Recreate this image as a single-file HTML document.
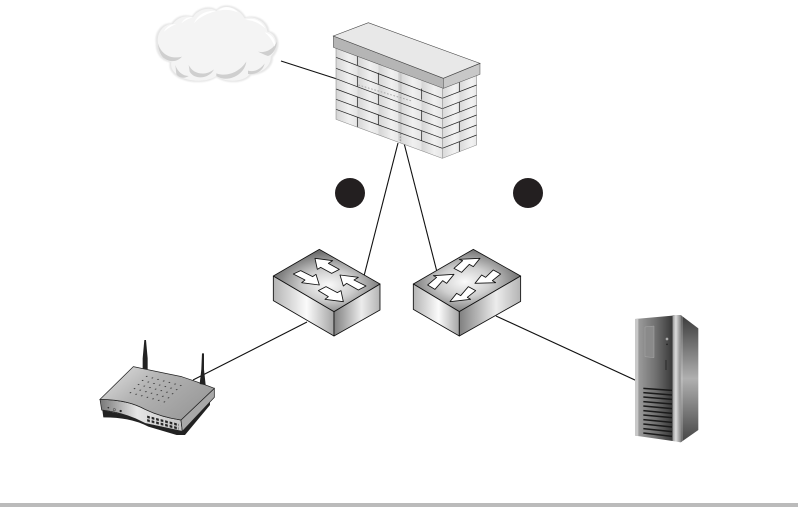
<!DOCTYPE html>
<html><head><meta charset="utf-8"><style>html,body{margin:0;padding:0;background:#fff}svg{display:block}</style></head>
<body>
<svg width="798" height="507" viewBox="0 0 798 507" xmlns="http://www.w3.org/2000/svg">
<defs>
<linearGradient id="brA" gradientUnits="userSpaceOnUse" x1="18" y1="0" x2="82" y2="0" spreadMethod="repeat"><stop offset="0" stop-color="#d4d4d4"/><stop offset=".6" stop-color="#f0f0f0"/><stop offset="1" stop-color="#e6e6e6"/></linearGradient>
<linearGradient id="brB" gradientUnits="userSpaceOnUse" x1="82" y1="0" x2="146" y2="0" spreadMethod="repeat"><stop offset="0" stop-color="#d6d6d6"/><stop offset=".6" stop-color="#f0f0f0"/><stop offset="1" stop-color="#e4e4e4"/></linearGradient>
<linearGradient id="brR" gradientUnits="userSpaceOnUse" x1="337" y1="0" x2="388" y2="0" spreadMethod="repeat"><stop offset="0" stop-color="#d8d8d8"/><stop offset=".7" stop-color="#f2f2f2"/><stop offset="1" stop-color="#e8e8e8"/></linearGradient>
<radialGradient id="swTop" gradientUnits="userSpaceOnUse" cx="0" cy="0" r="1" gradientTransform="translate(205 135) scale(170 100)"><stop offset="0" stop-color="#fafafa"/><stop offset=".45" stop-color="#cfcfcf"/><stop offset="1" stop-color="#6e6e6e"/></radialGradient>
<radialGradient id="swTop2" gradientUnits="userSpaceOnUse" cx="0" cy="0" r="1" gradientTransform="translate(615 125) scale(170 100)"><stop offset="0" stop-color="#fafafa"/><stop offset=".45" stop-color="#cfcfcf"/><stop offset="1" stop-color="#6e6e6e"/></radialGradient>
<linearGradient id="swL"><stop offset="0" stop-color="#b4b4b4"/><stop offset=".55" stop-color="#fbfbfb"/><stop offset="1" stop-color="#a4a4a4"/></linearGradient>
<linearGradient id="swR"><stop offset="0" stop-color="#808080"/><stop offset=".6" stop-color="#ececec"/><stop offset="1" stop-color="#b4b4b4"/></linearGradient>
<linearGradient id="rtTop" x1="0" y1="0" x2="1" y2=".6"><stop offset="0" stop-color="#e4e4e4"/><stop offset=".45" stop-color="#b4b4b4"/><stop offset="1" stop-color="#9a9a9a"/></linearGradient>
<linearGradient id="rtF"><stop offset="0" stop-color="#777"/><stop offset=".45" stop-color="#e6e6e6"/><stop offset="1" stop-color="#c4c4c4"/></linearGradient>
<linearGradient id="svF"><stop offset="0" stop-color="#a4a4a4"/><stop offset=".55" stop-color="#707070"/><stop offset="1" stop-color="#383838"/></linearGradient>
<linearGradient id="svS" x1="0" y1="0" x2="0" y2="1"><stop offset="0" stop-color="#3a3a3a"/><stop offset=".5" stop-color="#b0b0b0"/><stop offset="1" stop-color="#444"/></linearGradient>
<linearGradient id="svT"><stop offset="0" stop-color="#999"/><stop offset=".4" stop-color="#ddd"/><stop offset="1" stop-color="#888"/></linearGradient>
<pattern id="dots" patternUnits="userSpaceOnUse" width="17" height="17" patternTransform="matrix(1 .27 -.72 .72 0 0)"><circle cx="8" cy="8" r="1.9" fill="#222"/></pattern>
<pattern id="ports" patternUnits="userSpaceOnUse" width="13.5" height="10.5" patternTransform="matrix(1 .26 0 1 155 165)"><rect x="1.5" y="1.5" width="8" height="7" fill="#222"/></pattern>
<filter id="blur"><feGaussianBlur stdDeviation="2"/></filter>
</defs>

<rect width="798" height="507" fill="#fff"/>
<rect x="0" y="503" width="798" height="4" fill="#bbb"/>

<!-- connectors -->
<g stroke="#111" stroke-width="1.1" fill="none">
<line x1="281" y1="61" x2="337" y2="79"/>
<line x1="398" y1="143" x2="364" y2="276"/>
<line x1="404" y1="143" x2="437" y2="272"/>
<line x1="307" y1="322" x2="193" y2="380"/>
<line x1="496" y1="316" x2="637" y2="381"/>
</g>

<!-- numbered dots -->
<circle cx="350" cy="193" r="15" fill="#231f20"/>
<circle cx="528" cy="193" r="15" fill="#231f20"/>

<!-- cloud -->
<g transform="translate(148 0) scale(.3333)">
<path d="M30 130C25 95 50 70 75 72C90 50 115 45 135 52C150 25 190 20 205 33C225 10 270 20 290 55C320 45 355 65 358 95C385 100 395 140 368 170C370 195 345 220 305 222C290 245 235 250 205 228C175 250 110 245 85 222C65 205 70 190 70 185C45 180 30 160 30 130Z" fill="#e6e6e6" filter="url(#blur)" transform="translate(200 132) scale(1.04) translate(-200 -132)"/>
<path d="M30 130C25 95 50 70 75 72C90 50 115 45 135 52C150 25 190 20 205 33C225 10 270 20 290 55C320 45 355 65 358 95C385 100 395 140 368 170C370 195 345 220 305 222C290 245 235 250 205 228C175 250 110 245 85 222C65 205 70 190 70 185C45 180 30 160 30 130Z" fill="#f4f4f4"/>
<g fill="#cfcfcf">
<path d="M30 130C40 165 70 178 102 170C85 190 60 185 45 172C35 160 30 145 30 130Z"/>
<path d="M82 195C88 215 105 228 122 228C108 238 90 232 85 222Z"/>
<path d="M122 195C135 222 170 230 198 208C185 235 140 242 125 215Z"/>
<path d="M205 220C240 232 275 215 295 185C290 225 240 250 205 228Z"/>
<path d="M300 212C320 218 340 205 350 190C345 215 320 225 300 222Z"/>
<path d="M330 155C350 160 375 150 387 125C385 150 372 165 360 168C350 165 340 160 330 155Z"/>
</g>
<g fill="#fff">
<path d="M48 95C55 78 70 72 85 72C70 78 60 85 48 95Z"/>
<path d="M100 70C108 55 120 50 135 52C120 56 110 62 100 70Z"/>
<path d="M138 70C150 40 180 30 205 33C180 40 155 50 138 70Z"/>
<path d="M210 32C230 15 255 20 270 38C250 28 230 28 210 32Z"/>
<path d="M292 60C315 50 340 62 352 85C335 70 315 60 292 60Z"/>
<path d="M350 97C370 100 385 120 380 140C375 125 365 108 350 97Z"/>
</g>
</g>

<!-- firewall -->
<g transform="translate(330 20) scale(.3333)">
<g stroke="none">
<polygon points="18,85 337,202 337,235 18,112" fill="url(#brA)"/>
<polygon points="18,112 337,235 337,266 18,145" fill="url(#brB)"/>
<polygon points="18,145 337,266 337,296 18,176" fill="url(#brA)"/>
<polygon points="18,176 337,296 337,325 18,207" fill="url(#brB)"/>
<polygon points="18,207 337,325 337,355 18,238" fill="url(#brA)"/>
<polygon points="18,238 337,355 337,385 18,268" fill="url(#brB)"/>
<polygon points="18,268 337,385 337,415 18,298" fill="url(#brA)"/>
<polygon points="337,205 440,165 440,375 337,415" fill="url(#brR)"/>
<polygon points="205,155 215,159 215,365 205,361" fill="#c0c0c0" opacity=".6"/>
</g>
<g stroke="#222" stroke-width="2.2" fill="none">
<line x1="18" y1="112" x2="337" y2="235"/>
<line x1="18" y1="145" x2="337" y2="266"/>
<line x1="18" y1="176" x2="337" y2="296"/>
<line x1="18" y1="207" x2="337" y2="325"/>
<line x1="18" y1="238" x2="337" y2="355"/>
<line x1="18" y1="268" x2="337" y2="385"/>
<line x1="337" y1="235" x2="440" y2="195"/>
<line x1="337" y1="266" x2="440" y2="226"/>
<line x1="337" y1="296" x2="440" y2="256"/>
<line x1="337" y1="325" x2="440" y2="285"/>
<line x1="337" y1="355" x2="440" y2="315"/>
<line x1="337" y1="385" x2="440" y2="345"/>
<path d="M82 108.5V135.5M82 168.5V199.5M82 230.5V261.5M82 291.5V321.5"/>
<path d="M145 158.6V191.6M145 222.6V253.6M145 284.6V314.6"/>
<path d="M275 206V239M275 270V301M275 332V362"/>
<path d="M388 185V215M388 246V276M388 305V335M388 365V395"/>
</g>
<g stroke="#888" stroke-width="1.6" fill="none">
<path d="M18 85V298L337 415L440 375V165"/>
<line x1="337" y1="205" x2="337" y2="415"/>
</g>
<polygon points="10,48 340,175 340,205 10,82" fill="#b5b5b5" stroke="#555" stroke-width="1.6"/>
<polygon points="340,175 450,130 450,163 340,205" fill="#c8c8c8" stroke="#555" stroke-width="1.6"/>
<polygon points="10,48 115,8 450,130 340,175" fill="#e8e8e8" stroke="#444" stroke-width="1.8"/>
<path d="M85 195L245 243" stroke="#aaa" stroke-width="3" stroke-dasharray="5 5" fill="none"/>
<path d="M211 340V368" stroke="#999" stroke-width="3" stroke-dasharray="5 4" fill="none"/>
</g>

<!-- switches -->
<g transform="translate(260 240) scale(.3333)" stroke-linejoin="round">
<polygon points="40,108 222,215 222,288 40,182" fill="url(#swL)" stroke="#111" stroke-width="2.6"/>
<polygon points="222,215 360,132 360,210 222,288" fill="url(#swR)" stroke="#111" stroke-width="2.6"/>
<polygon points="40,108 178,28 360,132 222,215" fill="url(#swTop)" stroke="#111" stroke-width="2.6"/>
<g fill="#fff" stroke="#111" stroke-width="2.6">
<polygon points="165,55 218,62 205,70 238,88 215,100 182,82 172,88"/>
<polygon points="178,135 125,128 135,120 100,102 122,92 158,110 168,103"/>
<polygon points="240,105 295,112 282,120 318,138 295,150 260,130 250,138"/>
<polygon points="250,185 195,178 205,170 175,152 198,140 232,158 243,152"/>
</g>
<polygon points="460,132 640,28 782,108 598,215" fill="url(#swTop2)" stroke="#111" stroke-width="2.6"/>
<polygon points="460,132 598,215 598,288 460,208" fill="url(#swL)" stroke="#111" stroke-width="2.6"/>
<polygon points="598,215 782,108 782,184 598,288" fill="url(#swR)" stroke="#111" stroke-width="2.6"/>
<g fill="#fff" stroke="#111" stroke-width="2.6">
<polygon points="660,55 640,80 628,73 605,97 582,85 608,62 598,58"/>
<polygon points="582,103 560,130 548,122 525,148 503,135 530,112 520,107"/>
<polygon points="645,130 665,105 677,112 700,90 722,102 697,122 707,128"/>
<polygon points="570,185 590,160 602,167 625,140 647,152 622,172 632,178"/>
</g>
</g>

<!-- router -->
<g transform="translate(95 360) scale(.3333)">
<path d="M22 150L25 172Q110 172 160 200L245 225L270 225L345 135V110L258 200Z" fill="#222"/>
<path d="M15 118Q95 118 150 148Q200 172 258 180L262 214L150 190Q90 158 20 150Z" fill="url(#rtF)" stroke="#222" stroke-width="2.2"/>
<path d="M258 180L358 85V112L262 214Z" fill="#a8a8a8" stroke="#222" stroke-width="2.2"/>
<path d="M15 118L115 20Q200 38 260 50Q320 70 358 85L258 180Q200 172 150 148Q95 118 15 118Z" fill="url(#rtTop)" stroke="#222" stroke-width="2.2"/>
<polygon points="160,40 270,70 210,140 95,105" fill="url(#dots)"/>
<polygon points="155,165 252,190 252,212 155,187" fill="url(#ports)"/>
<circle cx="40" cy="143" r="2.5" fill="#333"/>
<circle cx="58" cy="149" r="3.5" fill="none" stroke="#333" stroke-width="1.5"/>
<circle cx="77" cy="153" r="3.5" fill="#222"/>
<path d="M148 -60H153L158 -5V28L143 26V-5Z" fill="#222"/>
<path d="M321 -20H327V28L332 75L314 72L319 28Z" fill="#222"/>
</g>

<!-- server -->
<g transform="translate(620 305) scale(.3333)">
<polygon points="182,30 235,70 235,375 182,412" fill="url(#svS)"/>
<polygon points="158,30 182,30 182,412 158,408" fill="url(#svT)"/>
<polygon points="45,42 158,32 158,408 45,392" fill="url(#svF)"/>
<polygon points="45,42 55,41 55,393 45,392" fill="#c8c8c8"/>
<polygon points="75,66 102,63 102,158 75,155" fill="#8a8a8a" stroke="#a8a8a8" stroke-width="1.5"/>
<circle cx="141" cy="102" r="4" fill="#aaa"/><circle cx="141" cy="118" r="2.5" fill="#222"/>
<rect x="136" y="165" width="4" height="30" fill="#333"/>
<path d="M70 250L156 256M70 263L156 270M70 276L156 283M70 290L156 297M70 303L156 311M70 317L156 325M70 330L156 338M70 344L156 352M70 357L156 366M70 371L156 380M70 384L156 394" stroke="#1a1a1a" stroke-width="4.5" fill="none"/>
<path d="M186 33V412" stroke="#ddd" stroke-width="1.5"/>
</g>
</svg>
</body></html>
